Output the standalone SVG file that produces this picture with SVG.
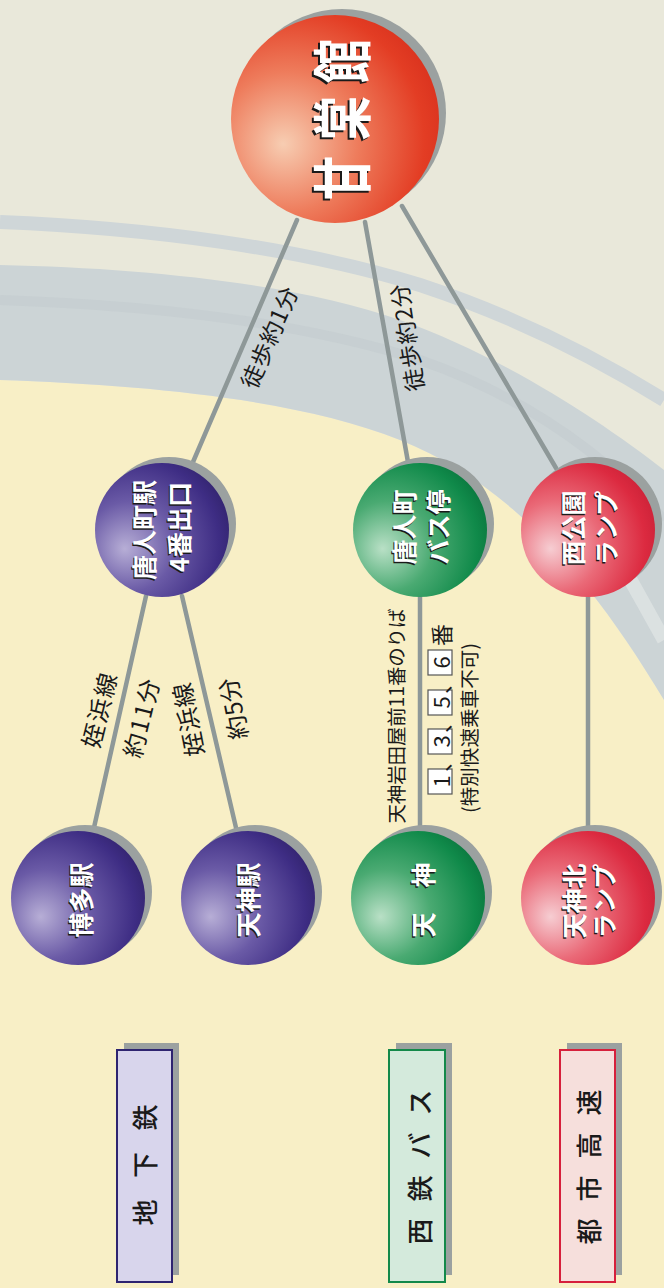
<svg xmlns="http://www.w3.org/2000/svg" width="664" height="1288" viewBox="0 0 664 1288">
<defs>
<radialGradient id="gRed" cx="0.3" cy="0.6" r="0.75" fx="0.25" fy="0.62">
<stop offset="0" stop-color="#f7cdb2"/><stop offset="0.45" stop-color="#ee7c5c"/><stop offset="0.85" stop-color="#e33d24"/><stop offset="1" stop-color="#d9321e"/>
</radialGradient>
<radialGradient id="gPur" cx="0.3" cy="0.6" r="0.75" fx="0.22" fy="0.64">
<stop offset="0" stop-color="#b7aed6"/><stop offset="0.45" stop-color="#6a5aa6"/><stop offset="0.85" stop-color="#3e2d84"/><stop offset="1" stop-color="#33246f"/>
</radialGradient>
<radialGradient id="gGrn" cx="0.3" cy="0.6" r="0.75" fx="0.22" fy="0.64">
<stop offset="0" stop-color="#b9e0c6"/><stop offset="0.45" stop-color="#4aaa72"/><stop offset="0.85" stop-color="#108a4a"/><stop offset="1" stop-color="#0a773e"/>
</radialGradient>
<radialGradient id="gPnk" cx="0.3" cy="0.6" r="0.75" fx="0.22" fy="0.64">
<stop offset="0" stop-color="#f6cdd2"/><stop offset="0.45" stop-color="#ea6a78"/><stop offset="0.85" stop-color="#dc2a40"/><stop offset="1" stop-color="#cc2238"/>
</radialGradient>
<style>
.sh{fill:#9ba1a0}
.lbl{font-family:"Noto Sans CJK JP","Noto Sans CJK SC",sans-serif;font-size:25px;font-weight:700;text-anchor:middle;dominant-baseline:central}
.w{fill:#ffffff}
.k{fill:#1a1a1a}
.ttl{font-family:"Noto Sans CJK JP","Noto Sans CJK SC",sans-serif;font-size:60px;font-weight:700;text-anchor:middle;dominant-baseline:central}
.cap{font-family:"Noto Sans CJK JP","Noto Sans CJK SC",sans-serif;font-size:22px;fill:#1a1a1a;text-anchor:middle;dominant-baseline:central}
.leg{font-family:"Noto Sans CJK JP","Noto Sans CJK SC",sans-serif;font-size:26px;font-weight:500;fill:#1a1a1a;text-anchor:middle;dominant-baseline:central}
.ln{stroke:#8e9898;stroke-width:4.5;fill:none;stroke-linecap:round}
.box{fill:#ffffff;stroke:#555;stroke-width:1.2}
</style>
</defs>

<g id="background">
<rect width="664" height="1288" fill="#f8efc6"/>
<path d="M0,0 H664 V700 C580,560 500,480 400,440 C300,400 150,385 0,380 Z" fill="#e9e8da"/>
<path d="M0,265 C150,268 300,285 400,320 C500,355 600,420 664,470 V700 C580,560 500,480 400,440 C300,400 150,385 0,380 Z" fill="#ccd4d6"/>
<path d="M0,222 C150,228 300,248 420,285 C520,318 600,360 664,400" stroke="#cfd6d8" stroke-width="14" fill="none"/>
<path d="M0,300 C150,305 300,322 420,360 C520,395 600,450 664,520" stroke="#c3cccf" stroke-width="10" fill="none" opacity="0.6"/>
<path d="M560,470 C600,520 630,580 664,640" stroke="#dfe4e4" stroke-width="14" fill="none" opacity="0.8"/>
</g>

<g id="connectors">
<line class="ln" x1="297" y1="220" x2="193" y2="462"/>
<line class="ln" x1="365" y1="222" x2="408" y2="462"/>
<line class="ln" x1="402" y1="206" x2="556" y2="468"/>
<line class="ln" x1="146" y1="596" x2="93" y2="832"/>
<line class="ln" x1="182" y1="596" x2="237" y2="832"/>
<line class="ln" x1="420" y1="596" x2="420" y2="832"/>
<line class="ln" x1="588" y1="596" x2="588" y2="832"/>
</g>

<g id="connector-labels">
<text class="cap" style="font-size:23px" transform="translate(268,337) rotate(-66.5)" textLength="108" lengthAdjust="spacing">徒歩約1分</text>
<text class="cap" style="font-size:23px" transform="translate(406,338) rotate(-99)" textLength="108" lengthAdjust="spacing">徒歩約2分</text>
<text class="cap" style="font-size:24px" transform="translate(98,710) rotate(-76)" textLength="76" lengthAdjust="spacing">姪浜線</text>
<text class="cap" style="font-size:24px" transform="translate(140,718) rotate(-76)" textLength="80" lengthAdjust="spacing">約11分</text>
<text class="cap" style="font-size:24px" transform="translate(187,720) rotate(-101)" textLength="74" lengthAdjust="spacing">姪浜線</text>
<text class="cap" style="font-size:24px" transform="translate(232,709) rotate(-101)" textLength="62" lengthAdjust="spacing">約5分</text>
<text class="cap" style="font-size:19.5px" transform="translate(395,716) rotate(-90)" textLength="215" lengthAdjust="spacing">天神岩田屋前11番のりば</text>
<g id="route-numbers">
<rect class="box" x="428" y="769" width="24" height="25"/>
<rect class="box" x="428" y="729" width="24" height="25"/>
<rect class="box" x="428" y="690" width="24" height="25"/>
<rect class="box" x="428" y="650" width="24" height="25"/>
<text class="cap" transform="translate(440,781.5) rotate(-90)">1</text>
<text class="cap" transform="translate(440,741.5) rotate(-90)">3</text>
<text class="cap" transform="translate(440,702.5) rotate(-90)">5</text>
<text class="cap" transform="translate(440,662.5) rotate(-90)">6</text>
<text class="cap" transform="translate(440,761) rotate(-90)">、</text>
<text class="cap" transform="translate(440,722) rotate(-90)">、</text>
<text class="cap" transform="translate(440,683) rotate(-90)">、</text>
<text class="cap" transform="translate(440,635) rotate(-90)">番</text>
</g>
<text class="cap" style="font-size:19.5px" transform="translate(468,728) rotate(-90)" textLength="170" lengthAdjust="spacing">(特別快速乗車不可)</text>
</g>

<g id="node-kanshokan">
<circle class="sh" cx="342" cy="113" r="104"/>
<circle cx="335" cy="119" r="104" fill="url(#gRed)"/>
<text class="ttl k" transform="translate(337,63) rotate(-90) scale(0.74,1)">館</text>
<text class="ttl w" transform="translate(339,61) rotate(-90) scale(0.74,1)">館</text>
<text class="ttl k" transform="translate(337,120) rotate(-90) scale(0.74,1)">棠</text>
<text class="ttl w" transform="translate(339,118) rotate(-90) scale(0.74,1)">棠</text>
<text class="ttl k" transform="translate(337,180) rotate(-90) scale(0.74,1)">甘</text>
<text class="ttl w" transform="translate(339,178) rotate(-90) scale(0.74,1)">甘</text>
</g>

<g id="node-tojinmachi-station">
<circle class="sh" cx="169" cy="524" r="67"/>
<circle cx="162" cy="530" r="67" fill="url(#gPur)"/>
<text class="lbl k" transform="translate(141.5,531.5) rotate(-90)">唐人町駅</text>
<text class="lbl w" transform="translate(143,530) rotate(-90)">唐人町駅</text>
<text class="lbl k" transform="translate(176.5,528.5) rotate(-90)">4番出口</text>
<text class="lbl w" transform="translate(178,527) rotate(-90)">4番出口</text>
</g>

<g id="node-tojinmachi-bus">
<circle class="sh" cx="427" cy="524" r="67"/>
<circle cx="420" cy="530" r="67" fill="url(#gGrn)"/>
<text class="lbl k" transform="translate(401.5,528.5) rotate(-90)">唐人町</text>
<text class="lbl w" transform="translate(403,527) rotate(-90)">唐人町</text>
<text class="lbl k" transform="translate(435.5,528.5) rotate(-90)">バス停</text>
<text class="lbl w" transform="translate(437,527) rotate(-90)">バス停</text>
</g>

<g id="node-nishikoen">
<circle class="sh" cx="595" cy="524" r="67"/>
<circle cx="588" cy="530" r="67" fill="url(#gPnk)"/>
<text class="lbl k" transform="translate(570.5,529.5) rotate(-90)">西公園</text>
<text class="lbl w" transform="translate(572,528) rotate(-90)">西公園</text>
<text class="lbl k" transform="translate(603.5,529.5) rotate(-90)">ランプ</text>
<text class="lbl w" transform="translate(605,528) rotate(-90)">ランプ</text>
</g>

<g id="node-hakata">
<circle class="sh" cx="85" cy="892" r="67"/>
<circle cx="78" cy="898" r="67" fill="url(#gPur)"/>
<text class="lbl k" transform="translate(78.5,901.5) rotate(-90)">博多駅</text>
<text class="lbl w" transform="translate(80,900) rotate(-90)">博多駅</text>
</g>

<g id="node-tenjin-station">
<circle class="sh" cx="255" cy="892" r="67"/>
<circle cx="248" cy="898" r="67" fill="url(#gPur)"/>
<text class="lbl k" transform="translate(245.5,901.5) rotate(-90)">天神駅</text>
<text class="lbl w" transform="translate(247,900) rotate(-90)">天神駅</text>
</g>

<g id="node-tenjin-bus">
<circle class="sh" cx="425" cy="892" r="67"/>
<circle cx="418" cy="898" r="67" fill="url(#gGrn)"/>
<text class="lbl k" transform="translate(420.5,901.5) rotate(-90)">天　神</text>
<text class="lbl w" transform="translate(422,900) rotate(-90)">天　神</text>
</g>

<g id="node-tenjinkita">
<circle class="sh" cx="595" cy="892" r="67"/>
<circle cx="588" cy="898" r="67" fill="url(#gPnk)"/>
<text class="lbl k" transform="translate(571.5,902.5) rotate(-90)">天神北</text>
<text class="lbl w" transform="translate(573,901) rotate(-90)">天神北</text>
<text class="lbl k" transform="translate(601.5,902.5) rotate(-90)">ランプ</text>
<text class="lbl w" transform="translate(603,901) rotate(-90)">ランプ</text>
</g>

<g id="legend-subway">
<rect class="sh" x="124" y="1043" width="55" height="232"/>
<rect x="117" y="1050" width="55" height="232" fill="#d8d5ec" stroke="#2e2470" stroke-width="2"/>
<text class="leg" transform="translate(143,1165) rotate(-90)" textLength="121" lengthAdjust="spacing">地 下 鉄</text>
</g>

<g id="legend-nishitetsu-bus">
<rect class="sh" x="396" y="1043" width="56" height="232"/>
<rect x="389" y="1050" width="56" height="232" fill="#d4eadc" stroke="#13894a" stroke-width="2"/>
<text class="leg" transform="translate(418,1167) rotate(-90)" textLength="155" lengthAdjust="spacing">西 鉄 バ ス</text>
</g>

<g id="legend-expressway">
<rect class="sh" x="567" y="1043" width="55" height="232"/>
<rect x="560" y="1050" width="55" height="232" fill="#f6dfdc" stroke="#d6203c" stroke-width="2"/>
<text class="leg" transform="translate(587,1167) rotate(-90)" textLength="155" lengthAdjust="spacing">都 市 高 速</text>
</g>
</svg>
